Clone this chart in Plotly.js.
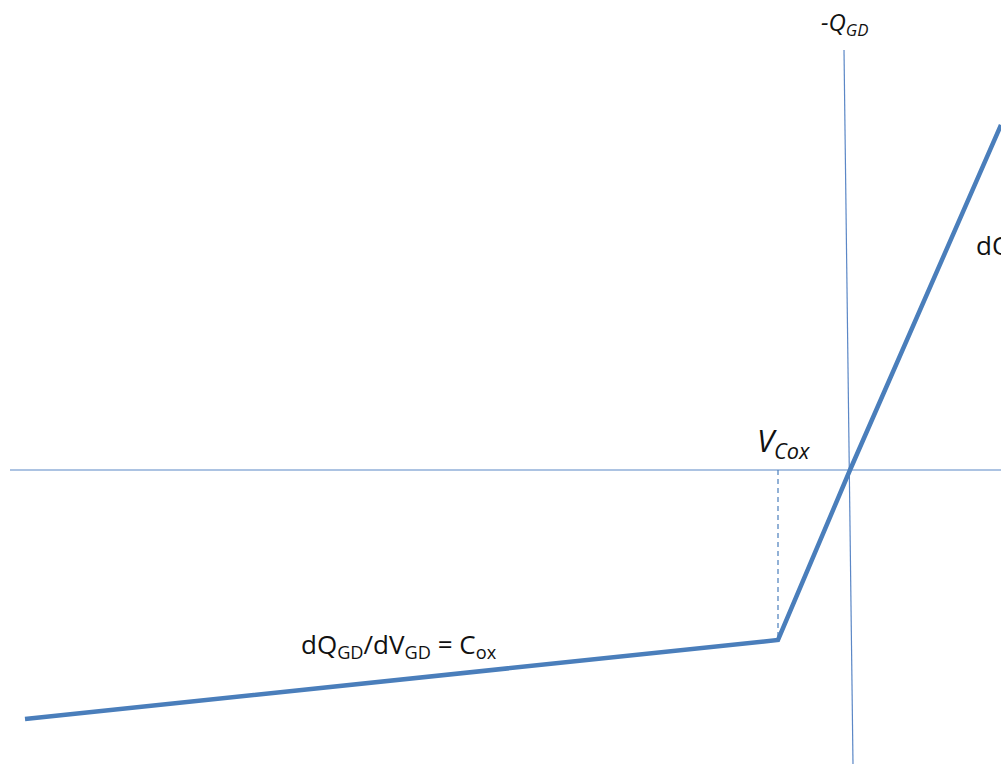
<!DOCTYPE html>
<html>
<head>
<meta charset="utf-8">
<script src="https://cdn.plot.ly/plotly-3.0.1.min.js"></script>
<style>html,body{margin:0;padding:0;background:#fff;overflow:hidden}#chart{width:1001px;height:764px}</style>
</head>
<body>
<div id="chart"></div>
<script>
// Q-V characteristic (arbitrary units, origin at the axes crossing)
const curveV = [-825, -72, 0, 151];
const curveQ = [-249, -170, 0, 345];
const vAxisV = [-840, 151];
const vAxisQ = [0, 0];
const qAxisV = [-6, 3];
const qAxisQ = [420, -294];
const vCox = -72;
const qAtVCox = -170;

const thin = '#5b87c6';
const thick = '#4a7ebb';

const traces = [
  {x: vAxisV, y: vAxisQ, mode: 'lines', line: {color: thin, width: 1.2}, hoverinfo: 'skip'},
  {x: qAxisV, y: qAxisQ, mode: 'lines', line: {color: thin, width: 1.2}, hoverinfo: 'skip'},
  {x: [vCox, vCox], y: [0, qAtVCox], mode: 'lines', line: {color: '#4a7ebb', width: 1.2, dash: '5px,4px'}, hoverinfo: 'skip'},
  {x: curveV, y: curveQ, mode: 'lines', line: {color: thick, width: 4.5}, hoverinfo: 'skip'}
];

const font = {family: '"Open Sans", "DejaVu Sans", sans-serif', color: '#111', size: 26};

const layout = {
  width: 1001, height: 764,
  margin: {l: 0, r: 0, t: 0, b: 0},
  paper_bgcolor: '#fff', plot_bgcolor: '#fff',
  showlegend: false,
  xaxis: {range: [-850, 151], visible: false, fixedrange: true},
  yaxis: {range: [-294, 470], visible: false, fixedrange: true},
  annotations: [
    {x: -6, y: 447, xref: 'x', yref: 'y', text: '<i>-Q<sub><i>GD</i></sub></i>', showarrow: false,
     font: Object.assign({}, font, {size: 24}), xanchor: 'center', yanchor: 'middle'},
    {x: -67, y: 28, xref: 'x', yref: 'y', text: '<i>V<sub><i>Cox</i></sub></i>', showarrow: false,
     font: Object.assign({}, font, {size: 31}), xanchor: 'center', yanchor: 'middle'},
    {x: -451, y: -175, xref: 'x', yref: 'y', text: 'dQ<sub>GD</sub>/dV<sub>GD</sub> = C<sub>ox</sub>', showarrow: false,
     font: font, xanchor: 'center', yanchor: 'middle'},
    {x: 124, y: 224, xref: 'x', yref: 'y', text: 'dQ<sub>GD</sub>/dV<sub>GD</sub> = C<sub>si</sub>', showarrow: false,
     font: font, xanchor: 'left', yanchor: 'middle'}
  ]
};

Plotly.newPlot('chart', traces, layout, {displayModeBar: false, staticPlot: true});
</script>
</body>
</html>
